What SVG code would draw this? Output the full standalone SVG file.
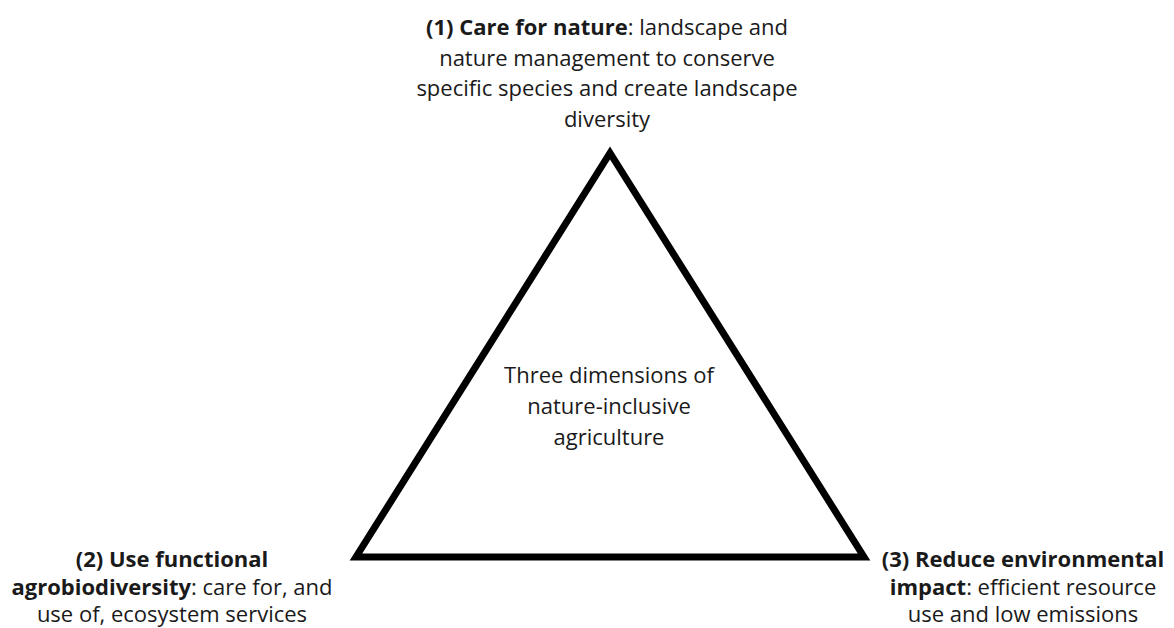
<svg xmlns="http://www.w3.org/2000/svg" width="1174" height="628" viewBox="0 0 1174 628">
<style>
text{font-family:"Open Sans","Liberation Sans",sans-serif;font-size:22px;fill:#1a1a1a;text-anchor:middle}
.b{font-weight:bold}
</style>
<rect width="1174" height="628" fill="#fff"/>
<g id="connectors">
<polygon points="610,153 356,557 864,557" fill="none" stroke="#000" stroke-width="7" stroke-linejoin="miter"/>
</g>
<g id="node-center">
<text x="609" y="383">Three dimensions of</text>
<text x="609" y="414">nature-inclusive</text>
<text x="609" y="445">agriculture</text>
</g>
<g id="node-1">
<text x="607" y="35"><tspan class="b">(1) Care for nature</tspan>: landscape and</text>
<text x="607" y="66">nature management to conserve</text>
<text x="607" y="96">specific species and create landscape</text>
<text x="607" y="127">diversity</text>
</g>
<g id="node-2">
<text x="172" y="567"><tspan class="b">(2) Use functional</tspan></text>
<text x="172" y="595"><tspan class="b">agrobiodiversity</tspan>: care for, and</text>
<text x="172" y="622">use of, ecosystem services</text>
</g>
<g id="node-3">
<text x="1023" y="567"><tspan class="b">(3) Reduce environmental</tspan></text>
<text x="1023" y="595"><tspan class="b">impact</tspan>: efficient resource</text>
<text x="1023" y="622">use and low emissions</text>
</g>
</svg>
